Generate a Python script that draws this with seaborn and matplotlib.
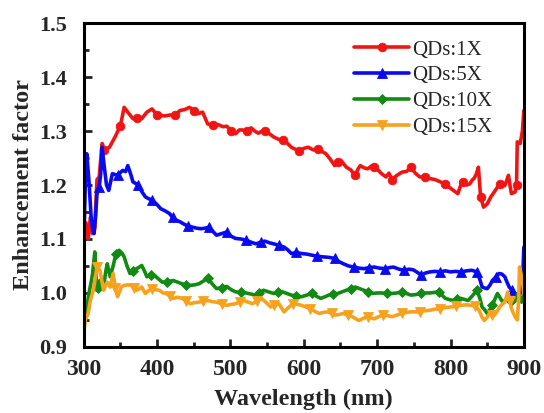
import numpy as np
import pandas as pd
import matplotlib
matplotlib.use("Agg")
import matplotlib.pyplot as plt
import seaborn as sns
from matplotlib.ticker import MultipleLocator

# ---- data: enhancement factor vs wavelength for four QD loadings ----
wl_1x = [300, 303, 306, 309, 312, 315, 318, 321, 325, 328, 335, 343, 350, 355, 360, 367, 373, 379,
         386, 393, 400, 410, 419, 425, 431, 438, 444, 450, 455, 462, 469, 476, 483, 490, 495, 501,
         507, 512, 516, 522, 528, 533, 538, 543, 547, 553, 559, 565, 571, 577, 583, 589, 594, 600,
         606, 613, 620, 625, 630, 636, 642, 647, 651, 655, 658, 664, 670, 674, 677, 682, 687, 692,
         696, 701, 706, 712, 716, 720, 727, 734, 740, 746, 752, 758, 765, 772, 779, 786, 792, 798,
         804, 810, 814, 817, 822, 826, 830, 832, 835, 838, 841, 845, 850, 855, 861, 867, 871, 874,
         877, 879, 881, 883, 888, 890, 891, 895, 898, 900]
ef_1x = [1.100, 1.130, 1.100, 1.140, 1.110, 1.120, 1.210, 1.215, 1.277, 1.265, 1.270, 1.290, 1.310,
         1.344, 1.335, 1.323, 1.325, 1.323, 1.335, 1.341, 1.330, 1.328, 1.330, 1.330, 1.338, 1.340,
         1.344, 1.338, 1.332, 1.335, 1.313, 1.312, 1.312, 1.308, 1.309, 1.300, 1.295, 1.302, 1.302,
         1.300, 1.306, 1.300, 1.296, 1.300, 1.300, 1.295, 1.289, 1.285, 1.283, 1.278, 1.270, 1.266,
         1.263, 1.268, 1.270, 1.265, 1.267, 1.262, 1.258, 1.248, 1.236, 1.242, 1.245, 1.238, 1.233,
         1.228, 1.218, 1.230, 1.236, 1.232, 1.230, 1.235, 1.233, 1.228, 1.221, 1.215, 1.222, 1.210,
         1.218, 1.224, 1.225, 1.233, 1.222, 1.215, 1.215, 1.212, 1.210, 1.206, 1.202, 1.196, 1.190,
         1.184, 1.200, 1.206, 1.200, 1.202, 1.210, 1.212, 1.220, 1.233, 1.178, 1.159, 1.165, 1.178,
         1.190, 1.202, 1.200, 1.199, 1.210, 1.218, 1.200, 1.184, 1.187, 1.200, 1.280, 1.277, 1.300,
         1.338]

wl_5x = [300, 302, 304, 307, 310, 312, 314, 316, 318, 321, 323, 325, 328, 331, 334, 339, 346, 353,
         357, 360, 364, 367, 374, 379, 384, 388, 393, 399, 405, 411, 417, 421, 426, 431, 436, 442,
         448, 454, 460, 465, 471, 476, 481, 488, 495, 501, 507, 514, 521, 528, 535, 541, 547, 553,
         559, 566, 573, 578, 583, 590, 597, 604, 611, 618, 625, 634, 642, 648, 654, 661, 668, 675,
         682, 689, 696, 703, 711, 717, 722, 730, 737, 743, 749, 755, 760, 766, 772, 779, 786, 793,
         800, 807, 814, 822, 829, 836, 840, 843, 847, 850, 854, 857, 862, 866, 870, 874, 877, 880,
         884, 888, 892, 895, 897, 899, 900]
ef_5x = [1.085, 1.200, 1.258, 1.209, 1.141, 1.120, 1.110, 1.140, 1.184, 1.196, 1.220, 1.270, 1.233,
         1.200, 1.190, 1.221, 1.218, 1.227, 1.225, 1.236, 1.220, 1.206, 1.200, 1.188, 1.178, 1.175,
         1.172, 1.165, 1.156, 1.152, 1.147, 1.140, 1.135, 1.132, 1.128, 1.124, 1.122, 1.120, 1.119,
         1.120, 1.122, 1.114, 1.107, 1.110, 1.113, 1.105, 1.101, 1.100, 1.098, 1.094, 1.091, 1.094,
         1.096, 1.093, 1.091, 1.088, 1.085, 1.080, 1.073, 1.075, 1.073, 1.072, 1.070, 1.068, 1.067,
         1.066, 1.064, 1.058, 1.054, 1.050, 1.048, 1.046, 1.045, 1.047, 1.048, 1.046, 1.045, 1.047,
         1.048, 1.044, 1.042, 1.044, 1.043, 1.038, 1.033, 1.037, 1.039, 1.040, 1.039, 1.041, 1.039,
         1.040, 1.039, 1.041, 1.042, 1.039, 1.025, 1.011, 1.009, 1.008, 1.015, 1.023, 1.030, 1.036,
         1.035, 1.030, 1.020, 1.011, 1.005, 0.999, 0.990, 1.000, 1.011, 1.050, 1.085]

wl_10x = [300, 302, 304, 307, 310, 312, 315, 318, 320, 322, 325, 327, 330, 332, 336, 340, 344, 348,
          352, 355, 359, 363, 367, 372, 376, 379, 383, 386, 391, 396, 401, 407, 414, 422, 428, 434,
          440, 445, 451, 457, 463, 469, 475, 481, 488, 495, 501, 507, 514, 521, 528, 533, 539, 545,
          552, 559, 565, 571, 577, 583, 590, 597, 604, 611, 617, 623, 629, 634, 640, 646, 652, 658,
          664, 670, 676, 682, 688, 694, 700, 706, 713, 720, 727, 734, 740, 746, 753, 760, 766, 772,
          778, 784, 789, 793, 798, 803, 809, 814, 819, 824, 830, 836, 840, 843, 847, 850, 854, 857,
          861, 864, 868, 871, 875, 878, 882, 886, 889, 892, 895, 897, 900]
ef_10x = [0.986, 0.950, 0.970, 0.999, 1.020, 1.036, 1.076, 1.005, 1.010, 1.023, 1.015, 1.011, 1.040,
          1.054, 1.030, 1.050, 1.073, 1.079, 1.074, 1.067, 1.050, 1.036, 1.040, 1.045, 1.048, 1.051,
          1.040, 1.030, 1.034, 1.033, 1.027, 1.020, 1.021, 1.023, 1.020, 1.017, 1.015, 1.014, 1.015,
          1.017, 1.022, 1.027, 1.017, 1.008, 1.010, 1.012, 1.006, 1.002, 1.001, 1.000, 0.998, 0.996,
          1.000, 1.005, 1.002, 0.999, 1.001, 1.002, 0.999, 0.996, 0.994, 0.993, 0.996, 0.999, 0.994,
          0.990, 0.993, 0.996, 0.998, 0.999, 1.002, 1.005, 1.008, 1.011, 1.008, 1.005, 1.002, 0.999,
          1.000, 1.000, 0.999, 0.999, 1.000, 1.002, 0.999, 0.996, 0.997, 0.999, 1.000, 1.000, 1.001,
          1.002, 0.995, 0.990, 0.988, 0.986, 0.988, 0.990, 0.988, 0.986, 0.995, 1.005, 0.990, 0.974,
          0.968, 0.962, 0.970, 0.977, 0.990, 0.999, 0.990, 0.983, 0.987, 0.990, 0.986, 0.983, 0.990,
          0.999, 0.990, 0.983, 0.999]

wl_15x = [300, 302, 306, 309, 313, 316, 318, 320, 322, 325, 327, 330, 332, 336, 340, 343, 346, 349,
          351, 355, 360, 365, 368, 372, 376, 379, 384, 388, 393, 398, 403, 408, 412, 417, 422, 428,
          434, 440, 445, 451, 457, 463, 469, 475, 481, 488, 495, 501, 507, 513, 518, 524, 530, 536,
          542, 548, 555, 560, 566, 573, 579, 585, 591, 597, 603, 609, 615, 621, 627, 633, 638, 642,
          648, 654, 660, 666, 671, 675, 681, 687, 691, 696, 702, 708, 714, 720, 727, 734, 740, 746,
          752, 758, 765, 772, 779, 786, 793, 800, 807, 814, 821, 829, 834, 839, 843, 846, 850, 853,
          857, 860, 864, 867, 871, 874, 876, 878, 881, 883, 886, 888, 891, 893, 894, 897, 899, 900]
ef_15x = [0.925, 0.950, 0.962, 0.986, 1.005, 1.030, 1.048, 1.045, 1.042, 1.020, 1.005, 1.015, 1.020,
          1.011, 1.036, 1.010, 0.993, 1.003, 1.011, 1.014, 1.015, 1.014, 1.010, 1.005, 1.008, 1.011,
          0.999, 1.004, 1.008, 1.006, 1.005, 1.000, 0.999, 0.995, 0.990, 0.992, 0.990, 0.985, 0.980,
          0.982, 0.983, 0.985, 0.986, 0.984, 0.983, 0.980, 0.977, 0.979, 0.980, 0.984, 0.986, 0.983,
          0.980, 0.985, 0.990, 0.983, 0.974, 0.978, 0.980, 0.965, 0.973, 0.980, 0.979, 0.977, 0.974,
          0.971, 0.966, 0.962, 0.964, 0.965, 0.962, 0.959, 0.960, 0.962, 0.959, 0.956, 0.952, 0.949,
          0.953, 0.956, 0.954, 0.952, 0.956, 0.959, 0.958, 0.956, 0.959, 0.962, 0.964, 0.965, 0.965,
          0.965, 0.967, 0.968, 0.970, 0.971, 0.973, 0.974, 0.975, 0.977, 0.978, 0.977, 0.975, 0.968,
          0.955, 0.949, 0.955, 0.962, 0.960, 0.959, 0.967, 0.974, 0.980, 0.983, 0.992, 1.002, 0.985,
          0.971, 0.962, 0.956, 0.950, 0.990, 1.048, 1.030, 1.010, 0.999]

labels = ["QDs:1X", "QDs:5X", "QDs:10X", "QDs:15X"]
colors = ["#F01515", "#0A0AF0", "#138A13", "#F5A31E"]
markers = ["o", "^", "D", "v"]
marker_sizes = [6.2, 6.5, 5.4, 6.5]
marker_starts = [327, 322, 320, 318]

series = [(wl_1x, ef_1x), (wl_5x, ef_5x), (wl_10x, ef_10x), (wl_15x, ef_15x)]


def marker_indices(wl, start, step=24.5):
    """Indices of samples closest to evenly spaced wavelengths."""
    wl = np.asarray(wl, dtype=float)
    idx = sorted({int(np.argmin(np.abs(wl - t))) for t in np.arange(start, 896, step)})
    return idx


sns.set_style("white")
plt.rcParams["font.family"] = ["Liberation Serif", "DejaVu Serif"]

fig = plt.figure(figsize=(5.44, 4.13), dpi=100)
ax = fig.add_axes([0.154, 0.160, 0.809, 0.784])

for (wl, ef), lab, col, mk, ms, st in zip(series, labels, colors, markers, marker_sizes, marker_starts):
    df = pd.DataFrame({"Wavelength": wl, "Enhancement": ef})
    sns.lineplot(data=df, x="Wavelength", y="Enhancement", ax=ax, estimator=None,
                 color=col, linewidth=2.6, marker=mk, markersize=ms,
                 markeredgecolor=col, markerfacecolor=col, markeredgewidth=0.6,
                 markevery=marker_indices(wl, st), label=lab)

ax.set_xlim(300, 900)
ax.set_ylim(0.9, 1.5)
ax.xaxis.set_major_locator(MultipleLocator(100))
ax.xaxis.set_minor_locator(MultipleLocator(50))
ax.yaxis.set_major_locator(MultipleLocator(0.1))
ax.yaxis.set_minor_locator(MultipleLocator(0.05))
ax.yaxis.set_major_formatter(matplotlib.ticker.FormatStrFormatter("%.1f"))

ax.tick_params(which="both", direction="in", width=2.0, bottom=True, left=True,
               top=False, right=False)
ax.tick_params(which="major", length=6)
ax.tick_params(which="minor", length=3.5)
ax.tick_params(axis="x", which="major", labelsize=17, pad=9)
ax.tick_params(axis="y", which="major", labelsize=16, pad=12)
for lbl in ax.get_xticklabels() + ax.get_yticklabels():
    lbl.set_fontweight("bold")

for sp in ax.spines.values():
    sp.set_linewidth(2.2)
    sp.set_color("black")

ax.set_xlabel("Wavelength (nm)", fontsize=17.5, fontweight="bold", labelpad=6)
ax.set_ylabel("Enhancement factor", fontsize=17.5, fontweight="bold", labelpad=4)

leg = ax.legend(loc="upper left", bbox_to_anchor=(0.615, 0.948), frameon=False,
                fontsize=15, handlelength=2.6, handletextpad=0.15, labelspacing=0.3,
                borderaxespad=0, borderpad=0)

fig.savefig("out.png", dpi=100)
